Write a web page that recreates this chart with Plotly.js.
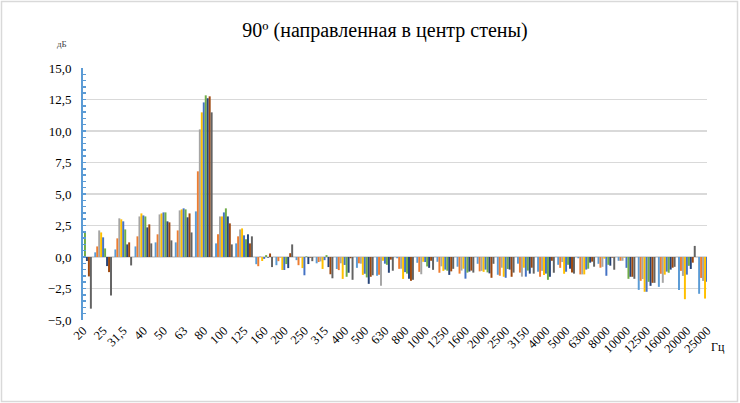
<!DOCTYPE html>
<html>
<head>
<meta charset="utf-8">
<script src="https://cdn.plot.ly/plotly-3.0.1.min.js"></script>
<style>html,body{margin:0;padding:0;background:#fff;}#chart{width:740px;height:403px;}</style>
</head>
<body>
<div id="chart"></div>
<script>
const categories = ["20","25","31,5","40","50","63","80","100","125","160","200","250","315","400","500","630","800","1000","1250","1600","2000","2500","3150","4000","5000","6300","8000","10000","12500","16000","20000","25000"];

const s1 = [0.3, 0.37, 0.6, 0.84, 1.16, 1.16, 3.62, 1.08, 1.08, -0.57, -0.65, -0.25, -0.5, -0.95, -0.86, -1.49, -0.1, -0.46, -0.38, -0.77, -0.54, -1.41, -0.53, -1.17, -0.62, -0.1, -0.54, -0.3, -2.61, -2.37, -2.61, -2.92];
const s2 = [0.6, 0.84, 1.48, 1.64, 1.8, 2.11, 6.8, 1.8, 1.64, -0.73, -0.33, -0.65, -0.4, -1.04, -0.5, -1.41, -0.94, -1.18, -1.25, -1.32, -1.14, -1.49, -1.24, -1.57, -0.86, -1.38, -0.85, -0.3, -1.89, -1.33, -1.1, -1.66];
const s3 = [1.5, 2.11, 3.07, 3.22, 3.38, 3.7, 10.13, 3.22, 2.19, 0.04, -0.05, -0.05, -0.35, -0.5, -0.53, -2.29, -0.93, -1.37, -0.74, -1.08, -1.1, -0.85, -1.56, -1.1, -0.4, -1.38, -0.78, -0.3, -1.75, -2.05, -1.5, -1.9];
const s4 = [1.2, 1.95, 2.99, 3.46, 3.46, 3.78, 11.48, 3.22, 2.27, -0.32, -1.03, -0.88, -0.95, -1.74, -1.42, -0.3, -1.74, -0.38, -1.1, -0.93, -1.18, -1.57, -0.85, -1.42, -1.33, -1.38, -0.13, -0.05, -2.76, -1.4, -3.35, -3.3];
const s5 = [0, 1.56, 2.83, 3.3, 3.54, 3.86, 12.27, 3.54, 1.72, -0.15, -1.03, -1.45, -0.25, -0.63, -1.33, -0.53, -1.2, -0.4, -1.0, -1.72, -1.0, -1.65, -1.56, -1.32, -1.17, -1.0, -1.49, -0.86, -2.76, -1.16, -1.4, -1.97];
const s6 = [1.98, 0.68, 2.19, 3.22, 3.54, 3.78, 12.83, 3.86, 1.4, 0.15, -0.56, 0.05, 0.15, -1.57, -1.62, -0.62, -1.32, -0.75, -1.09, -1.24, -1.22, -0.95, -1.08, -1.81, -0.62, -0.93, -0.62, -1.73, -1.97, -1.25, -0.7, -1.2];
const s7 = [-0.32, -0.72, 1.0, 2.35, 2.83, 3.15, 12.6, 3.22, 1.8, -0.05, -0.88, -0.56, -0.8, -1.25, -2.13, -1.25, -1.73, -0.86, -1.42, -1.16, -1.3, -1.0, -1.32, -1.57, -0.93, -0.45, -0.69, -1.57, -2.29, -1.0, -0.95, -1.0];
const s8 = [-1.54, -1.2, 1.16, 2.59, 2.75, 3.46, 12.75, 2.67, 1.08, 0.28, 0.3, -0.05, -1.37, -0.1, -1.57, -0.21, -1.89, -0.3, -1.14, -1.08, -1.65, -1.57, -0.85, -0.3, -1.24, -0.37, -0.05, -1.57, -2.05, -0.85, -0.45, -0.8];
const s9 = [-4.1, -3.05, -0.67, 1.08, 1.32, 1.95, 11.48, 1.0, 1.64, -0.8, 1.0, -0.33, -1.69, -1.81, -1.45, -1.09, -1.81, -1.02, -0.94, -1.24, -0.54, -1.24, -1.32, -1.25, -1.32, -0.77, -1.01, -1.73, -2.05, -0.78, 0.88, -1.0];

const seriesList = [s1, s2, s3, s4, s5, s6, s7, s8, s9];
const colors = ["#5B9BD5", "#ED7D31", "#A5A5A5", "#FFC000", "#4472C4", "#70AD47", "#264478", "#9E480E", "#636363"];

const traces = seriesList.map((vals, i) => ({
  type: 'bar',
  x: categories,
  y: vals,
  name: String(i + 1),
  marker: {color: colors[i], line: {width: 0}},
  hoverinfo: 'y'
}));

const serif = 'Liberation Serif, Times New Roman, serif';

const layout = {
  width: 740,
  height: 403,
  margin: {l: 83, r: 33, t: 68, b: 83, pad: 0},
  paper_bgcolor: '#ffffff',
  plot_bgcolor: '#ffffff',
  showlegend: false,
  barmode: 'group',
  bargap: 0.12,
  bargroupgap: 0,
  separators: ', ',
  font: {family: serif, size: 12, color: '#000000'},
  title: {
    text: '90º (направленная в центр стены)',
    font: {family: serif, size: 20, color: '#000000'},
    x: 385 / 740, xanchor: 'center', xref: 'container',
    y: 1 - 30/403, yanchor: 'middle', yref: 'container'
  },
  xaxis: {
    type: 'category',
    range: [0, 31],
    tickangle: -45,
    showgrid: false,
    zeroline: false,
    showline: false,
    ticks: '',
    tickfont: {family: serif, size: 12.5, color: '#000000'},
    automargin: false
  },
  yaxis: {
    range: [-5, 15],
    dtick: 2.5,
    tick0: 0,
    tickformat: '.1f',
    showgrid: true,
    gridcolor: '#D9D9D9',
    gridwidth: 1.6,
    zeroline: false,
    showline: true,
    linecolor: '#5B9BD5',
    linewidth: 2,
    ticks: 'inside',
    ticklen: 3,
    tickwidth: 1.5,
    tickcolor: '#5B9BD5',
    ticklabelstandoff: 7,
    minor: {dtick: 0.5, ticks: 'inside', ticklen: 3, tickwidth: 1.5, tickcolor: '#5B9BD5', showgrid: false},
    tickfont: {family: serif, size: 13, color: '#000000'},
    automargin: false
  },
  annotations: [
    {text: 'дБ', xref: 'paper', yref: 'paper', x: (62 - 83) / 624, y: (320 - 44) / 252, xanchor: 'center', yanchor: 'middle', showarrow: false, font: {family: serif, size: 9, color: '#404040'}},
    {text: 'Гц', xref: 'paper', yref: 'paper', x: (718 - 83) / 624, y: (320 - 347) / 252, xanchor: 'center', yanchor: 'middle', showarrow: false, font: {family: serif, size: 12, color: '#000000'}}
  ],
  shapes: [
    {type: 'rect', xref: 'paper', yref: 'paper', x0: (1.5 - 83) / 624, x1: (737.5 - 83) / 624, y0: (320 - 401.5) / 252, y1: (320 - 1.5) / 252, line: {color: '#D9D9D9', width: 1.5}, fillcolor: 'rgba(0,0,0,0)', layer: 'below'}
  ]
};

Plotly.newPlot('chart', traces, layout, {displayModeBar: false, staticPlot: true});
</script>
</body>
</html>
